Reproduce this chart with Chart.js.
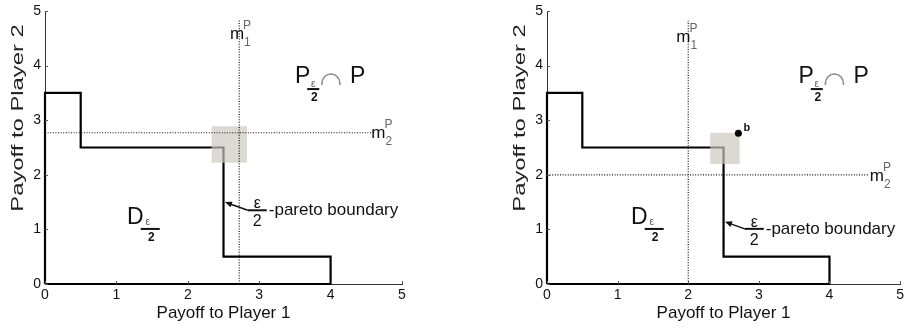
<!DOCTYPE html>
<html>
<head>
<meta charset="utf-8">
<script src="https://cdn.jsdelivr.net/npm/chart.js@4.4.0/dist/chart.umd.min.js"></script>
<style>
  html, body { margin: 0; padding: 0; background: #fff; }
  #wrap { position: relative; width: 908px; height: 332px; }
  .panel { position: absolute; top: 0; width: 454px; height: 332px; }
</style>
</head>
<body>
<div id="wrap">
  <div class="panel" style="left:0"><canvas id="chartA" width="454" height="332"></canvas></div>
  <div class="panel" style="left:454px"><canvas id="chartB" width="454" height="332"></canvas></div>
</div>
<script>
/* Frontera del conjunto D (polígono cerrado, igual en las dos gráficas) */
const regionX = [0, 0, 0.5, 0.5, 2.5, 2.5, 4, 4, 0];
const regionY = [0, 3.5, 3.5, 2.5, 2.5, 0.5, 0.5, 0, 0];

const axisTicks = [0, 1, 2, 3, 4, 5];

/* Líneas punteadas m1^P (x) y m2^P (y), con sus extremos */
const mLinesA = [2.72, 2.77];
const mLinesB = [2.0, 2.0];
const mEndsA = [4.85, 4.58];
const mEndsB = [4.82, 4.55];

/* Cuadro gris: [x1, x2, y1, y2] */
const squareA = [2.33, 2.83, 2.22, 2.89];
const squareB = [2.31, 2.73, 2.2, 2.77];

/* Punto b (solo en la gráfica derecha) */
const pointB = [2.71, 2.76];

const FONT = '"Liberation Sans", Arial, sans-serif';

function toPts(xs, ys) {
  return xs.map((x, i) => ({ x: x, y: ys[i] }));
}

/* Dibuja "m" con superíndice P y subíndice */
function drawM(ctx, x, y, sub) {
  ctx.font = '17px ' + FONT;
  ctx.fillStyle = '#111';
  ctx.textAlign = 'left';
  ctx.fillText('m', x, y);
  const w = ctx.measureText('m').width;
  ctx.font = '12px ' + FONT;
  ctx.fillStyle = '#666';
  ctx.fillText('P', x + w - 1, y - 10);
  ctx.fillText(sub, x + w, y + 7);
}

/* Letra grande con subíndice ε/2 */
function drawFracLetter(ctx, letter, x, y, lineLen, lineDy, epsDx, epsDy) {
  ctx.font = '23px ' + FONT;
  ctx.fillStyle = '#111';
  ctx.textAlign = 'left';
  ctx.fillText(letter, x, y);
  const w = ctx.measureText(letter).width;
  const lx = x + w - 3;
  ctx.fillRect(lx, y + lineDy - 1, lineLen, 2);
  ctx.textAlign = 'center';
  ctx.font = '10px ' + FONT;
  ctx.fillStyle = '#555';
  ctx.fillText('ε', lx + epsDx, y + epsDy);
  ctx.font = 'bold 12px ' + FONT;
  ctx.fillStyle = '#111';
  ctx.fillText('2', lx + lineLen / 2 + 1, y + lineDy + 12);
  ctx.textAlign = 'left';
  return lx + lineLen;
}

function drawArrow(ctx, x0, y0, x1, y1) {
  const a = Math.atan2(y1 - y0, x1 - x0);
  ctx.strokeStyle = '#111';
  ctx.lineWidth = 1.5;
  ctx.beginPath();
  ctx.moveTo(x0, y0);
  ctx.lineTo(x1 - 4 * Math.cos(a), y1 - 4 * Math.sin(a));
  ctx.stroke();
  ctx.fillStyle = '#111';
  ctx.beginPath();
  ctx.moveTo(x1, y1);
  ctx.lineTo(x1 - 7 * Math.cos(a) + 3 * Math.sin(a), y1 - 7 * Math.sin(a) - 3 * Math.cos(a));
  ctx.lineTo(x1 - 7 * Math.cos(a) - 3 * Math.sin(a), y1 - 7 * Math.sin(a) + 3 * Math.cos(a));
  ctx.closePath();
  ctx.fill();
}

/* Plugin: marcas hacia dentro, título Y estirado y anotaciones */
const annotPlugin = {
  id: 'annot',
  afterDraw(chart) {
    const ctx = chart.ctx;
    const sx = chart.scales.x, sy = chart.scales.y;
    const L = chart.options.plugins.annot;
    const px = v => sx.getPixelForValue(v);
    const py = v => sy.getPixelForValue(v);
    const area = chart.chartArea;
    ctx.save();

    ctx.strokeStyle = '#555';
    ctx.lineWidth = 1;
    axisTicks.forEach(v => {
      ctx.beginPath();
      ctx.moveTo(Math.round(px(v)) + 0.5, area.bottom);
      ctx.lineTo(Math.round(px(v)) + 0.5, area.bottom - 3);
      ctx.moveTo(area.left, Math.round(py(v)) + 0.5);
      ctx.lineTo(area.left + 3, Math.round(py(v)) + 0.5);
      ctx.stroke();
    });

    /* título del eje Y (más largo que el del eje X en la imagen) */
    ctx.save();
    ctx.translate(L.yTitleX, L.yTitleY);
    ctx.rotate(-Math.PI / 2);
    ctx.scale(1.4, 1);
    ctx.font = '17px ' + FONT;
    ctx.fillStyle = '#222';
    ctx.textAlign = 'center';
    ctx.textBaseline = 'middle';
    ctx.fillText('Payoff to Player 2', 0, 0);
    ctx.restore();

    ctx.textBaseline = 'alphabetic';
    drawM(ctx, px(L.m1[0]), py(L.m1[1]), '1');
    drawM(ctx, px(L.m2[0]), py(L.m2[1]), '2');

    /* P_{ε/2} ∩ P */
    const pX = px(L.pcap[0]), pY = py(L.pcap[1]);
    drawFracLetter(ctx, 'P', pX, pY, 12, 6, 6, 4);
    ctx.strokeStyle = '#888';
    ctx.lineWidth = 1.5;
    ctx.beginPath();
    ctx.moveTo(pX + 27, pY + 2);
    ctx.lineTo(pX + 27, pY);
    ctx.arc(pX + 36, pY, 9, Math.PI, 0);
    ctx.lineTo(pX + 45, pY + 2);
    ctx.stroke();
    ctx.font = '23px ' + FONT;
    ctx.fillStyle = '#111';
    ctx.fillText('P', pX + 55, pY);

    /* D_{ε/2} */
    drawFracLetter(ctx, 'D', px(L.d[0]), py(L.d[1]), 19, 5, 7, 1);

    /* ε/2-pareto boundary */
    const lx = px(L.par[0]), ly = py(L.par[1]);
    drawArrow(ctx, lx, ly, px(L.tip[0]), py(L.tip[1]));
    ctx.fillStyle = '#111';
    ctx.fillRect(lx, ly - 1, 19, 2);
    ctx.textAlign = 'center';
    ctx.font = '16px ' + FONT;
    ctx.fillText('ε', lx + 9.5, ly - 2);
    ctx.fillText('2', lx + 9.5, ly + 16);
    ctx.textAlign = 'left';
    ctx.font = '17px ' + FONT;
    ctx.fillText('-pareto boundary', lx + 21, ly + 5);

    if (L.b) {
      ctx.font = 'bold 11px ' + FONT;
      ctx.fillText('b', px(L.b[0]) + 5, py(L.b[1]) - 2);
    }
    ctx.restore();
  }
};

function makeChart(id, opt) {
  const datasets = [
    { data: toPts(regionX, regionY), showLine: true, borderColor: '#000', borderWidth: 2.2,
      pointRadius: 0, order: 4, clip: false },
    { data: [{ x: opt.sq[0], y: opt.sq[3] }, { x: opt.sq[1], y: opt.sq[3] }], showLine: true,
      borderWidth: 0, borderColor: 'rgba(0,0,0,0)', pointRadius: 0,
      fill: { value: opt.sq[2] }, backgroundColor: 'rgba(203,199,189,0.68)', order: 3 },
    { data: [{ x: opt.m[0], y: 0 }, { x: opt.m[0], y: opt.ends[0] }], showLine: true,
      borderColor: '#111', borderWidth: 1.2, borderDash: [1, 1.6], pointRadius: 0, order: 2 },
    { data: [{ x: 0, y: opt.m[1] }, { x: opt.ends[1], y: opt.m[1] }], showLine: true,
      borderColor: '#111', borderWidth: 1.2, borderDash: [1, 1.6], pointRadius: 0, order: 2 }
  ];
  if (opt.point) {
    datasets.push({ data: [{ x: opt.point[0], y: opt.point[1] }], pointRadius: 3.5,
      pointBackgroundColor: '#000', pointBorderWidth: 0, order: 1 });
  }

  const tickFont = { family: FONT, size: 14, lineHeight: 1 };

  return new Chart(document.getElementById(id), {
    type: 'scatter',
    data: { datasets: datasets },
    plugins: [annotPlugin],
    options: {
      responsive: false,
      animation: false,
      events: [],
      layout: { padding: { left: 0, top: 7, right: opt.padRight, bottom: 0 } },
      plugins: { legend: { display: false }, tooltip: { enabled: false }, annot: opt.labels },
      scales: {
        x: {
          type: 'linear', min: 0, max: 5,
          afterBuildTicks: s => { s.ticks = axisTicks.map(v => ({ value: v })); },
          ticks: { font: tickFont, color: '#111', padding: 4, maxRotation: 0 },
          grid: { display: true, drawOnChartArea: false, drawTicks: false },
          border: { display: true, color: '#333', width: 1 },
          title: { display: true, text: 'Payoff to Player 1', color: '#111',
                   font: { family: FONT, size: 17 }, padding: { top: 0, bottom: 8 } },
          afterFit: s => { s.height = 48; }
        },
        y: {
          type: 'linear', min: 0, max: 5,
          afterBuildTicks: s => { s.ticks = axisTicks.map(v => ({ value: v })); },
          ticks: { font: tickFont, color: '#111', padding: 4 },
          grid: { display: true, drawOnChartArea: false, drawTicks: false },
          border: { display: true, color: '#333', width: 1 },
          afterFit: s => { s.width = opt.left; }
        }
      }
    }
  });
}

makeChart('chartA', {
  m: mLinesA, ends: mEndsA, sq: squareA, left: 45, padRight: 52,
  labels: { yTitleX: 18.5, yTitleY: 118, m1: [2.59, 4.48], m2: [4.57, 2.68],
            pcap: [3.5, 3.68], d: [1.15, 1.1], par: [2.84, 1.35], tip: [2.52, 1.5] }
});

makeChart('chartB', {
  m: mLinesB, ends: mEndsB, sq: squareB, left: 93, padRight: 4, point: pointB,
  labels: { yTitleX: 66.5, yTitleY: 118, m1: [1.83, 4.44], m2: [4.57, 1.88],
            pcap: [3.56, 3.68], d: [1.19, 1.1], par: [2.8, 1.01], tip: [2.52, 1.14], b: pointB }
});
</script>
</body>
</html>
